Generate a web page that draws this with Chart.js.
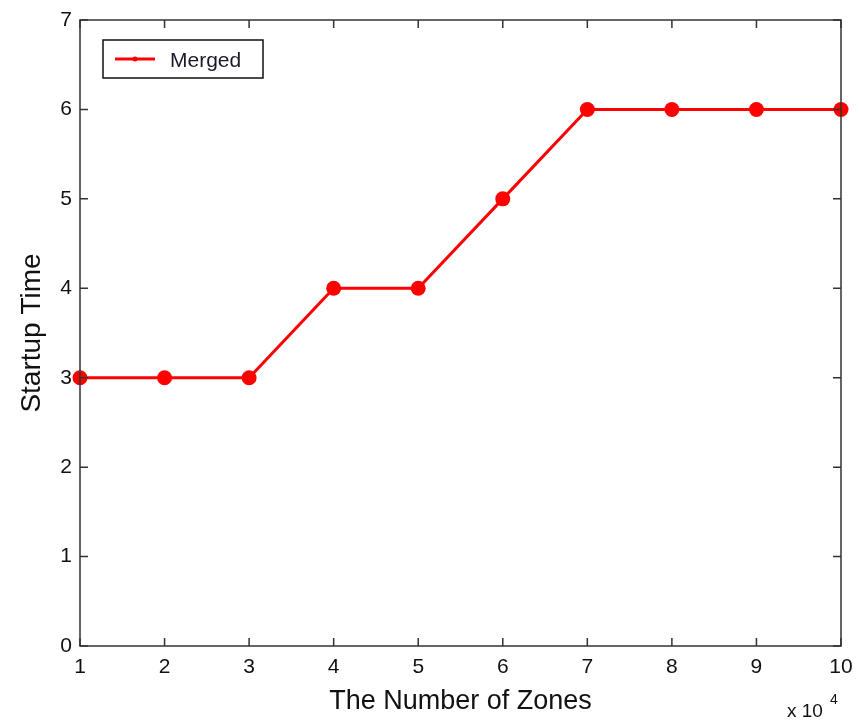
<!DOCTYPE html>
<html>
<head>
<meta charset="utf-8">
<script src="https://cdn.jsdelivr.net/npm/chart.js@4/dist/chart.umd.min.js"></script>
<style>
  html, body { margin: 0; padding: 0; background: #fff; }
  #wrap { width: 859px; height: 720px; }
</style>
</head>
<body>
<div id="wrap"><canvas id="c"></canvas></div>
<script>
// data (x in units of 10^4)
const zones = [1, 2, 3, 4, 5, 6, 7, 8, 9, 10];
const startupTime = [3, 3, 3, 4, 4, 5, 6, 6, 6, 6];
const seriesName = 'Merged';
const red = '#ff0000';
const fam = '"Liberation Sans", Arial, sans-serif';
const tickFont = { family: fam, size: 21 };

// MATLAB-style box with inward ticks + legend box + exponent label
const matlabBox = {
  id: 'matlabBox',
  afterDraw(chart) {
    const { ctx, chartArea: a, scales: { x, y } } = chart;
    ctx.save();
    ctx.strokeStyle = '#333';
    ctx.lineWidth = 1.5;
    ctx.strokeRect(a.left, a.top, a.right - a.left, a.bottom - a.top);
    const len = 8;
    ctx.beginPath();
    x.ticks.forEach(t => {
      const px = x.getPixelForValue(t.value);
      ctx.moveTo(px, a.bottom); ctx.lineTo(px, a.bottom - len);
      ctx.moveTo(px, a.top); ctx.lineTo(px, a.top + len);
    });
    y.ticks.forEach(t => {
      const py = y.getPixelForValue(t.value);
      ctx.moveTo(a.left, py); ctx.lineTo(a.left + len, py);
      ctx.moveTo(a.right, py); ctx.lineTo(a.right - len, py);
    });
    ctx.stroke();

    // legend
    const ds = chart.data.datasets[0];
    const lx = a.left + 23, ly = a.top + 20, lw = 160, lh = 38;
    ctx.fillStyle = '#fff';
    ctx.fillRect(lx, ly, lw, lh);
    ctx.strokeStyle = '#111';
    ctx.lineWidth = 1.5;
    ctx.strokeRect(lx, ly, lw, lh);
    ctx.strokeStyle = ds.borderColor;
    ctx.lineWidth = 3;
    ctx.beginPath();
    ctx.moveTo(lx + 12, ly + lh / 2);
    ctx.lineTo(lx + 52, ly + lh / 2);
    ctx.stroke();
    ctx.fillStyle = ds.borderColor;
    ctx.beginPath();
    ctx.arc(lx + 32, ly + lh / 2, 2.5, 0, Math.PI * 2);
    ctx.fill();
    ctx.fillStyle = '#1a1a2e';
    ctx.font = '21px ' + fam;
    ctx.textBaseline = 'alphabetic';
    ctx.textAlign = 'left';
    ctx.fillText(ds.label, lx + 67, ly + 27);

    // exponent
    ctx.fillStyle = '#111';
    ctx.font = '19px ' + fam;
    ctx.fillText('x 10', 787, 717);
    ctx.font = '14px ' + fam;
    ctx.fillText('4', 830, 704);
    ctx.restore();
  }
};

new Chart(document.getElementById('c'), {
  type: 'line',
  data: {
    datasets: [{
      label: seriesName,
      data: zones.map((z, i) => ({ x: z, y: startupTime[i] })),
      borderColor: red,
      backgroundColor: red,
      borderWidth: 3,
      pointRadius: 7.5,
      pointHoverRadius: 7.5,
      pointBorderWidth: 0,
      tension: 0,
      clip: false
    }]
  },
  options: {
    responsive: true,
    maintainAspectRatio: false,
    animation: false,
    layout: { padding: { top: 20, right: 18, left: 0, bottom: 0 } },
    scales: {
      x: {
        type: 'linear',
        min: 1,
        max: 10,
        afterFit: s => { s.height = 74; s.paddingLeft = 0; s.paddingRight = 0; },
        grid: { display: false, drawTicks: false },
        border: { display: false },
        ticks: { stepSize: 1, color: '#111', font: tickFont, padding: 9 },
        title: {
          display: true,
          text: 'The Number of Zones',
          color: '#111',
          font: { family: fam, size: 27 },
          padding: { top: 0, bottom: 2 }
        }
      },
      y: {
        min: 0,
        max: 7,
        afterFit: s => { s.width = 80; s.paddingTop = 0; s.paddingBottom = 0; },
        grid: { display: false, drawTicks: false },
        border: { display: false },
        ticks: { stepSize: 1, color: '#111', font: tickFont, padding: 8 },
        title: {
          display: true,
          text: 'Startup Time',
          color: '#111',
          font: { family: fam, size: 28 },
          padding: { top: 15, bottom: 0 }
        }
      }
    },
    plugins: {
      legend: { display: false },
      tooltip: { enabled: false }
    }
  },
  plugins: [matlabBox]
});
</script>
</body>
</html>
